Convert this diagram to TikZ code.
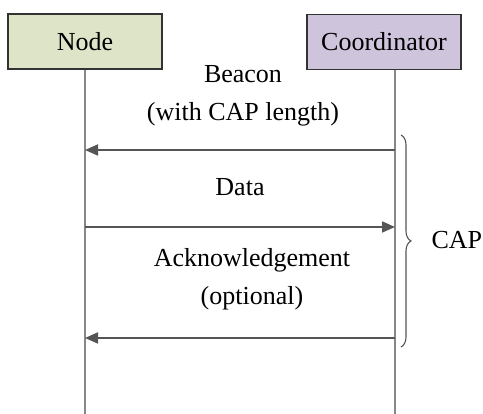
\documentclass[tikz,border=0pt]{standalone}
\usepackage{fontspec}
\setmainfont{Liberation Serif}
\usetikzlibrary{arrows.meta,decorations.pathreplacing}

\definecolor{nodefill}{RGB}{222,228,200}
\definecolor{coordfill}{RGB}{206,196,220}
\definecolor{lifegray}{RGB}{135,135,135}
\definecolor{arrowgray}{RGB}{85,85,85}

\tikzset{
    actor/.style={draw=black!80, line width=1.2pt, minimum width=154pt, minimum height=55pt,
        inner sep=0pt, font=\fontsize{26}{31}\selectfont},
    lifeline/.style={lifegray, line width=1.6pt},
    msg/.style={arrowgray, line width=1.8pt, -{Triangle[length=13pt,width=11pt]}},
    msglabel/.style={align=center, font=\fontsize{26}{38}\selectfont}
}

\begin{document}
\begin{tikzpicture}[x=1pt,y=1pt]
    \useasboundingbox (0,0) rectangle (483,414);

    % Actors
    \node[actor, fill=nodefill] (node) at (85,372.5) {Node};
    \node[actor, fill=coordfill] (coordinator) at (384,372) {Coordinator};

    % Lifelines
    \coordinate (nodeEnd) at (85,0);
    \coordinate (coordEnd) at (395,0);
    \draw[lifeline] (node.south) -- (nodeEnd);
    \draw[lifeline] (coordinator.south -| coordEnd) -- (coordEnd);

    % Messages
    \coordinate (beaconFrom) at (395,264);
    \coordinate (beaconTo) at (85,264);
    \coordinate (dataFrom) at (85,187);
    \coordinate (dataTo) at (395,187);
    \coordinate (ackFrom) at (395,76);
    \coordinate (ackTo) at (85,76);
    \draw[msg] (beaconFrom) -- (beaconTo);
    \draw[msg] (dataFrom) -- (dataTo);
    \draw[msg] (ackFrom) -- (ackTo);

    \node[msglabel] (beacon) at (243,318) {Beacon\\(with CAP length)};
    \node[msglabel] (data) at (240,227) {Data};
    \node[msglabel] (ack) at (252,134.5) {Acknowledgement\\(optional)};

    % CAP brace
    \coordinate (capTop) at (401,279);
    \coordinate (capBot) at (401,67);
    \draw[arrowgray, line width=1.1pt, decorate, decoration={brace, amplitude=10pt}]
        (capTop) -- (capBot);
    \node[font=\fontsize{26}{31}\selectfont, anchor=west] (cap) at (428,174) {CAP};
\end{tikzpicture}
\end{document}
